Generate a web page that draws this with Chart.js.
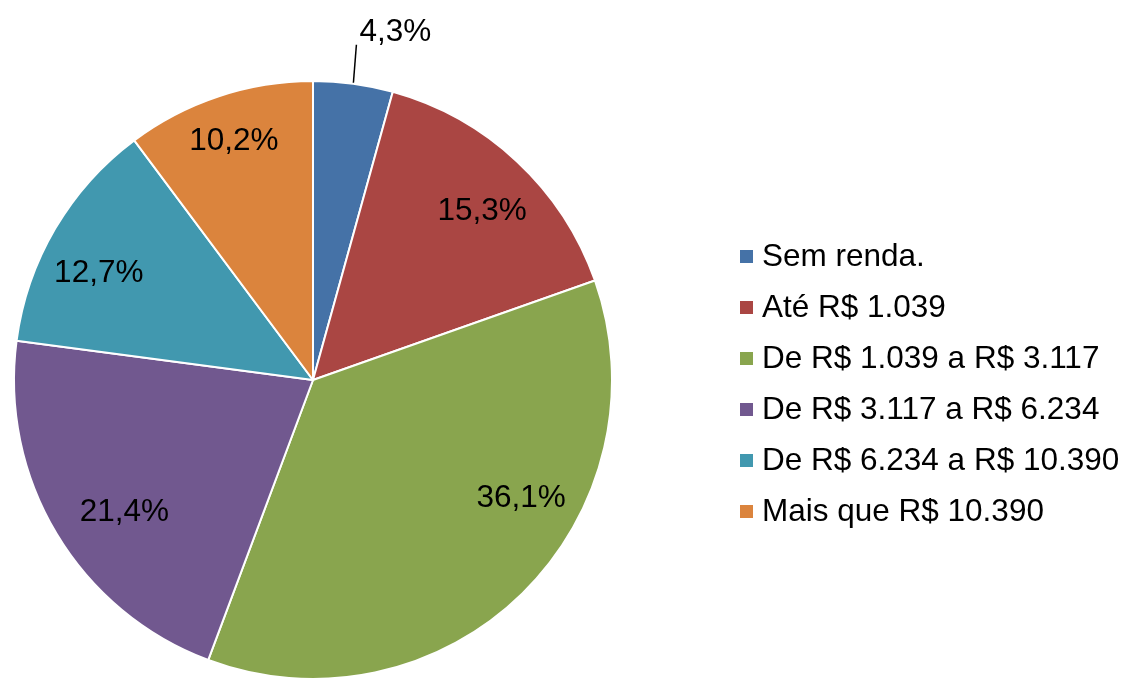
<!DOCTYPE html>
<html>
<head>
<meta charset="utf-8">
<script src="https://cdn.jsdelivr.net/npm/chart.js@4"></script>
<style>
  html, body { margin: 0; padding: 0; background: #fff; }
  #wrap { width: 1129px; height: 680px; position: relative; }
</style>
</head>
<body>
<div id="wrap"><canvas id="graphique-renda"></canvas></div>
<script>
// Données
const categorias = ['Sem renda.', 'Até R$ 1.039', 'De R$ 1.039 a R$ 3.117',
  'De R$ 3.117 a R$ 6.234', 'De R$ 6.234 a R$ 10.390', 'Mais que R$ 10.390'];
const percentuais = [4.3, 15.3, 36.1, 21.4, 12.7, 10.2];
const rotulos = ['4,3%', '15,3%', '36,1%', '21,4%', '12,7%', '10,2%'];

const CORES = ['#4572A7', '#AA4643', '#89A54E', '#71588F', '#4198AF', '#DB843D'];
const FONTE = '31.5px "Liberation Sans", Arial, sans-serif';

// petits décalages d'angle (degrés) pour coller au placement d'origine
const decalage = [0, 2, -16, -4, -4, 0];
const distance = [0, 0.8, 0.8, 0.77, 0.8, 0.84];

const rotulosPlugin = {
  id: 'rotulos',
  afterDatasetsDraw(chart) {
    const ctx = chart.ctx;
    const meta = chart.getDatasetMeta(0);
    ctx.save();
    ctx.font = FONTE;
    ctx.fillStyle = '#000';
    meta.data.forEach((arc, i) => {
      const p = arc.getProps(['x', 'y', 'startAngle', 'endAngle', 'outerRadius']);
      const mid = (p.startAngle + p.endAngle) / 2 + decalage[i] * Math.PI / 180;
      if (i === 0) {
        // petite part : étiquette extérieure avec trait
        const x0 = p.x + Math.cos(mid) * (p.outerRadius + 1);
        const y0 = p.y + Math.sin(mid) * (p.outerRadius + 1);
        const x1 = x0 + 3, y1 = y0 - 38;
        ctx.strokeStyle = '#000';
        ctx.lineWidth = 1.5;
        ctx.beginPath();
        ctx.moveTo(x0, y0);
        ctx.lineTo(x1, y1);
        ctx.stroke();
        ctx.textAlign = 'left';
        ctx.textBaseline = 'middle';
        ctx.fillText(rotulos[i], x1 + 3, y1 - 12);
      } else {
        const r = p.outerRadius * distance[i];
        ctx.textAlign = 'center';
        ctx.textBaseline = 'middle';
        ctx.fillText(rotulos[i], p.x + Math.cos(mid) * r, p.y + Math.sin(mid) * r);
      }
    });
    ctx.restore();
  }
};

const legendaPlugin = {
  id: 'legenda',
  afterDraw(chart) {
    const ctx = chart.ctx;
    ctx.save();
    ctx.font = FONTE;
    ctx.textAlign = 'left';
    ctx.textBaseline = 'middle';
    categorias.forEach((c, i) => {
      const y = 256 + i * 51;
      ctx.fillStyle = CORES[i];
      ctx.fillRect(740, y - 6, 13, 13);
      ctx.fillStyle = '#000';
      ctx.fillText(c, 762, y + 1);
    });
    ctx.restore();
  }
};

const ctx = document.getElementById('graphique-renda').getContext('2d');
new Chart(ctx, {
  type: 'pie',
  data: {
    labels: categorias,
    datasets: [{
      data: percentuais,
      backgroundColor: CORES,
      borderColor: '#fff',
      borderWidth: 2
    }]
  },
  options: {
    responsive: true,
    maintainAspectRatio: false,
    animation: false,
    layout: { padding: { left: 13, top: 80, right: 516, bottom: 0 } },
    plugins: {
      legend: { display: false },
      tooltip: { enabled: false }
    }
  },
  plugins: [rotulosPlugin, legendaPlugin]
});
</script>
</body>
</html>
